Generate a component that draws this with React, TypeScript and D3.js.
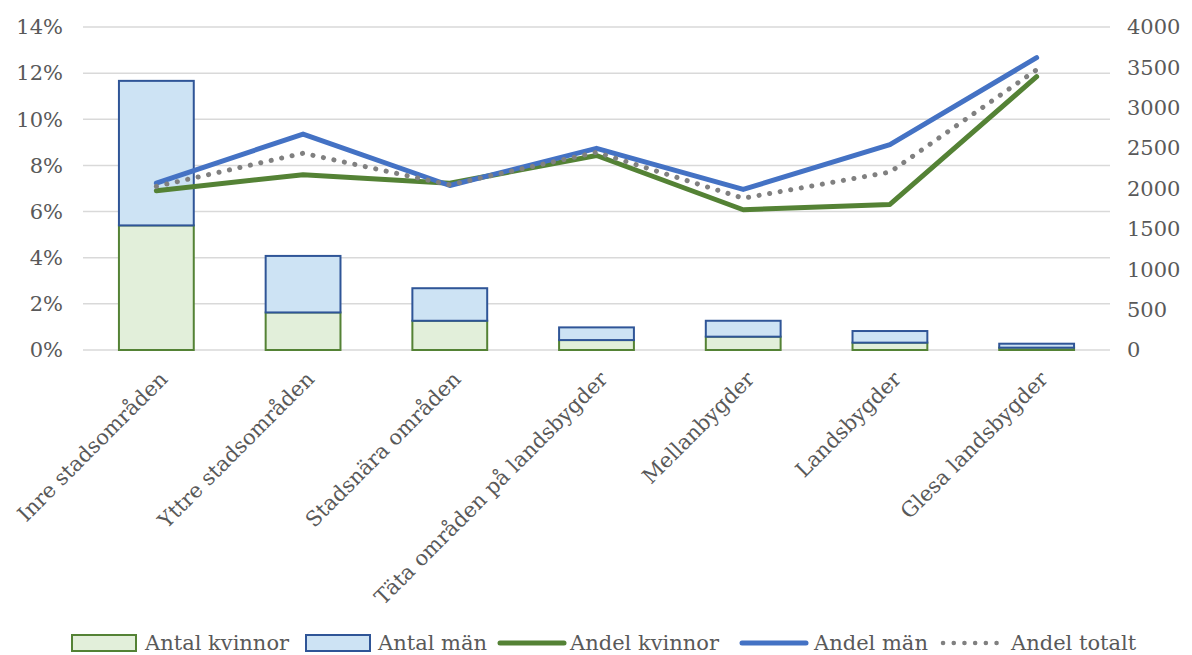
import React from "react";
import * as d3 from "d3";

const categories = [
  "Inre stadsområden",
  "Yttre stadsområden",
  "Stadsnära områden",
  "Täta områden på landsbygder",
  "Mellanbygder",
  "Landsbygder",
  "Glesa landsbygder",
];
const antalKvinnor = [1543, 465, 362, 123, 165, 91, 29];
const antalMan = [1790, 700, 403, 157, 197, 144, 49];
const andelKvinnor = [6.9, 7.6, 7.23, 8.43, 6.08, 6.31, 11.85];
const andelMan = [7.23, 9.36, 7.13, 8.74, 6.96, 8.9, 12.67];
const andelTotalt = [7.09, 8.53, 7.16, 8.57, 6.58, 7.71, 12.15];
const leftTicks = [0, 2, 4, 6, 8, 10, 12, 14];
const rightTicks = [0, 500, 1000, 1500, 2000, 2500, 3000, 3500, 4000];

const W = 1192;
const H = 655;
const M = { left: 83, right: 1110, top: 27, bottom: 350 };
const FONT = "DejaVu Serif";
const TXT = "#595959";
const GREEN = "#548235";
const BLUE = "#4472C4";
const BLUE_DARK = "#2F5597";
const GREEN_FILL = "#E2EFDA";
const BLUE_FILL = "#CDE3F4";
const GRAY = "#808080";
const FS = 21;

export default function App() {
  const x = d3.scaleBand<string>().domain(categories).range([M.left, M.right]).paddingInner(0.49).paddingOuter(0.245);
  const yL = d3.scaleLinear().domain([0, 14]).range([M.bottom, M.top]);
  const yR = d3.scaleLinear().domain([0, 4000]).range([M.bottom, M.top]);
  const cx = (c: string) => (x(c) as number) + x.bandwidth() / 2;

  const line = d3
    .line<number>()
    .x((_, i) => cx(categories[i]))
    .y((d) => yL(d));

  const lines = [
    { data: andelKvinnor, color: GREEN, dash: undefined, w: 5 },
    { data: andelMan, color: BLUE, dash: undefined, w: 5 },
    { data: andelTotalt, color: GRAY, dash: "0.1 10.6", w: 5 },
  ];

  const legendY = 643;
  const legend = [
    { type: "box", fill: GREEN_FILL, stroke: GREEN, x: 72, label: "Antal kvinnor", tx: 145 },
    { type: "box", fill: BLUE_FILL, stroke: BLUE_DARK, x: 306, label: "Antal män", tx: 378 },
    { type: "line", stroke: GREEN, x: 500, label: "Andel kvinnor", tx: 570 },
    { type: "line", stroke: BLUE, x: 742, label: "Andel män", tx: 814 },
    { type: "dot", stroke: GRAY, x: 940, label: "Andel totalt", tx: 1011 },
  ];

  return (
    <svg width={W} height={H} style={{ position: "absolute", left: 0, top: 0, background: "#fff" }} fontFamily={FONT}>
      {leftTicks.map((t) => (
        <line key={"g" + t} x1={M.left} x2={M.right} y1={yL(t)} y2={yL(t)} stroke="#D9D9D9" strokeWidth={1.5} />
      ))}
      {leftTicks.map((t) => (
        <text key={"l" + t} x={63} y={yL(t)} dy="0.35em" textAnchor="end" fontSize={FS} fill={TXT}>
          {t}%
        </text>
      ))}
      {rightTicks.map((t) => (
        <text key={"r" + t} x={1127} y={yR(t)} dy="0.35em" textAnchor="start" fontSize={FS} fill={TXT}>
          {t}
        </text>
      ))}
      {categories.map((c, i) => {
        const x0 = x(c) as number;
        const bw = x.bandwidth();
        const k = antalKvinnor[i];
        const m = antalMan[i];
        return (
          <g key={c}>
            <rect x={x0} y={yR(k)} width={bw} height={yR(0) - yR(k)} fill={GREEN_FILL} stroke={GREEN} strokeWidth={2} />
            <rect x={x0} y={yR(k + m)} width={bw} height={yR(k) - yR(k + m)} fill={BLUE_FILL} stroke={BLUE_DARK} strokeWidth={2} />
          </g>
        );
      })}
      {lines.map((l, i) => (
        <path
          key={i}
          d={line(l.data) as string}
          fill="none"
          stroke={l.color}
          strokeWidth={l.w}
          strokeDasharray={l.dash}
          strokeLinecap="round"
          strokeLinejoin="round"
        />
      ))}
      {categories.map((c) => (
        <text
          key={"x" + c}
          transform={`translate(${cx(c) + 2},${370}) rotate(-45)`}
          textAnchor="end"
          dy="0.7em"
          fontSize={FS}
          fill={TXT}
        >
          {c}
        </text>
      ))}
      {legend.map((l) => (
        <g key={l.label}>
          {l.type === "box" && (
            <rect x={l.x} y={legendY - 8} width={64} height={16} fill={l.fill} stroke={l.stroke} strokeWidth={2} />
          )}
          {l.type === "line" && (
            <line x1={l.x} x2={l.x + 64} y1={legendY} y2={legendY} stroke={l.stroke} strokeWidth={5} strokeLinecap="round" />
          )}
          {l.type === "dot" && (
            <line x1={l.x + 3} x2={l.x + 62} y1={legendY} y2={legendY} stroke={l.stroke} strokeWidth={4.5} strokeDasharray="0.1 10.6" strokeLinecap="round" />
          )}
          <text x={l.tx} y={legendY} dy="0.35em" fontSize={FS} fill={TXT}>
            {l.label}
          </text>
        </g>
      ))}
    </svg>
  );
}
